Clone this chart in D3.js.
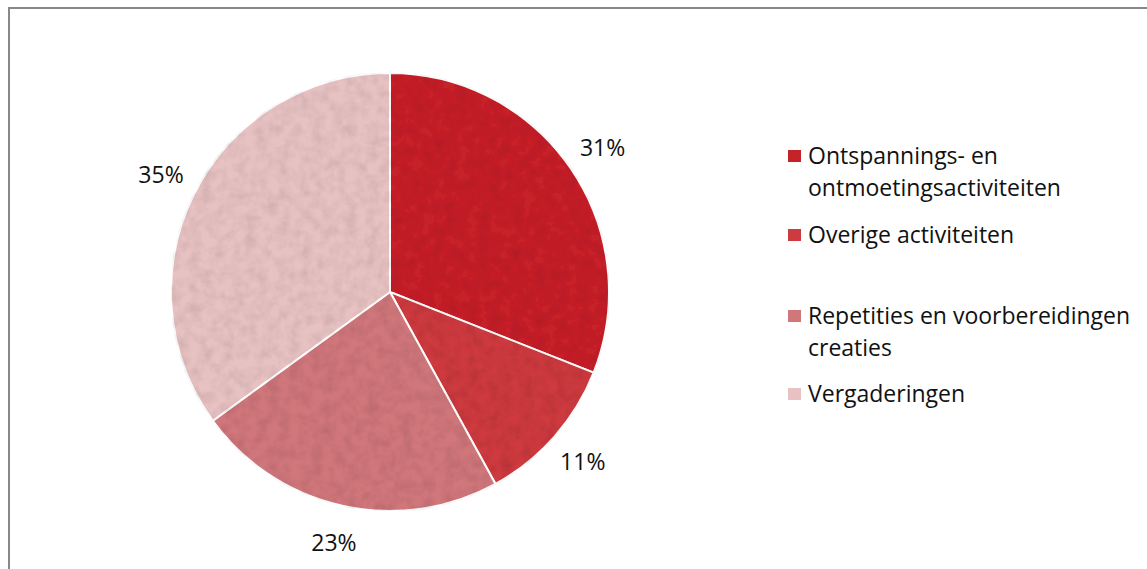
<!DOCTYPE html>
<html><head><meta charset="utf-8">
<script src="https://cdn.jsdelivr.net/npm/d3@7"></script>
<style>body{margin:0;background:#fff}svg{display:block}</style>
</head><body>
<svg id="c" width="1147" height="569"></svg>
<script>
const categories = ["Ontspannings- en ontmoetingsactiviteiten","Overige activiteiten","Repetities en voorbereidingen creaties","Vergaderingen"];
const legendLines = [["Ontspannings- en","ontmoetingsactiviteiten"],["Overige activiteiten"],["Repetities en voorbereidingen","creaties"],["Vergaderingen"]];
const values = [31, 11, 23, 35];
const labels = ["31%","11%","23%","35%"];
const colors = ["#c62329","#cd3a3f","#d0777b","#e8c2c3"];

const svg = d3.select("#c");
svg.append("rect").attr("x",9).attr("y",8).attr("width",1160).attr("height",600)
  .attr("fill","#fff").attr("stroke","#888").attr("stroke-width",2);

const defs = svg.append("defs");
const f = defs.append("filter").attr("id","tex").attr("x",0).attr("y",0).attr("width",1).attr("height",1);
f.append("feTurbulence").attr("type","fractalNoise").attr("baseFrequency",0.09).attr("numOctaves",3).attr("seed",4).attr("result","n");
f.append("feColorMatrix").attr("in","n").attr("type","matrix")
 .attr("values","0 0 0 0 0  0 0 0 0 0  0 0 0 0 0  0 0 0 0.35 -0.12").attr("result","a");
f.append("feComposite").attr("in","a").attr("in2","SourceGraphic").attr("operator","in").attr("result","d");
f.append("feMerge").call(m=>{m.append("feMergeNode").attr("in","SourceGraphic");m.append("feMergeNode").attr("in","d");});

const cx = 390, cy = 292, r = 219;
const pie = d3.pie().sort(null).value(d=>d)(values);
const arc = d3.arc().innerRadius(0).outerRadius(r);
const g = svg.append("g").attr("transform",`translate(${cx},${cy})`);
g.selectAll("path").data(pie).join("path")
  .attr("d",arc).attr("fill",(d,i)=>colors[i])
  .attr("stroke","#fff").attr("stroke-width",2).attr("filter","url(#tex)");

const lab = d3.arc().innerRadius(r+38).outerRadius(r+38);
g.selectAll("text").data(pie).join("text")
  .attr("transform",d=>`translate(${lab.centroid(d)})`)
  .attr("text-anchor","middle").attr("dy","0.35em")
  .attr("font-family","'Open Sans', sans-serif").attr("font-size",23).attr("fill","#111")
  .text((d,i)=>labels[i]);

const legY = [156, 235, 316, 394];
const lg = svg.append("g");
legendLines.forEach((lines,i)=>{
  lg.append("rect").attr("x",788).attr("y",legY[i]-6).attr("width",13).attr("height",12).attr("fill",colors[i]);
  lines.forEach((t,j)=>{
    lg.append("text").attr("x",808).attr("y",legY[i]+j*32).attr("dy","0.35em")
      .attr("font-family","'Open Sans', sans-serif").attr("font-size",23).attr("fill","#111").text(t);
  });
});
</script>
</body></html>
